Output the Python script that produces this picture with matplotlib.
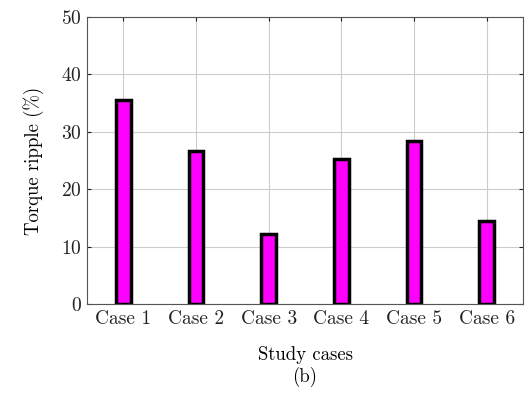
import numpy as np
import matplotlib
matplotlib.use("Agg")
import matplotlib.pyplot as plt

plt.rcParams['font.family'] = 'serif'
plt.rcParams['font.serif'] = ['cmr10', 'DejaVu Serif']
plt.rcParams['mathtext.fontset'] = 'cm'
plt.rcParams['axes.formatter.use_mathtext'] = True

# Данные
cases = ['Case 1', 'Case 2', 'Case 3', 'Case 4', 'Case 5', 'Case 6']
ripple = [35.6, 26.7, 12.2, 25.3, 28.4, 14.4]
y_ticks = [0, 10, 20, 30, 40, 50]

x = np.arange(1, len(cases) + 1)

fig = plt.figure(figsize=(5.31, 3.94), dpi=100)
ax = fig.add_axes([0.164, 0.228, 0.821, 0.729])

ax.bar(x, ripple, width=0.2, color='#ff00ff', edgecolor='black', linewidth=2.5, zorder=3)

ax.set_xlim(0.5, 6.5)
ax.set_ylim(0, 50)
ax.set_xticks(x)
ax.set_xticklabels(cases)
ax.set_yticks(y_ticks)
ax.tick_params(direction='in', top=True, right=True, length=3, labelsize=14, colors='#222222', pad=4)
ax.grid(True, color='#cccccc', linewidth=0.8, zorder=0)
for s in ax.spines.values():
    s.set_color('#555555')

ax.set_ylabel('Torque ripple (%)', fontsize=13.5, labelpad=12)
xc = 0.5 * (0.164 + 0.985)
fig.text(xc, 1 - 355 / 394, 'Study cases', ha='center', va='center', fontsize=13.5)
fig.text(xc, 1 - 377 / 394, '(b)', ha='center', va='center', fontsize=13.5)

fig.savefig('out.png', dpi=100)
